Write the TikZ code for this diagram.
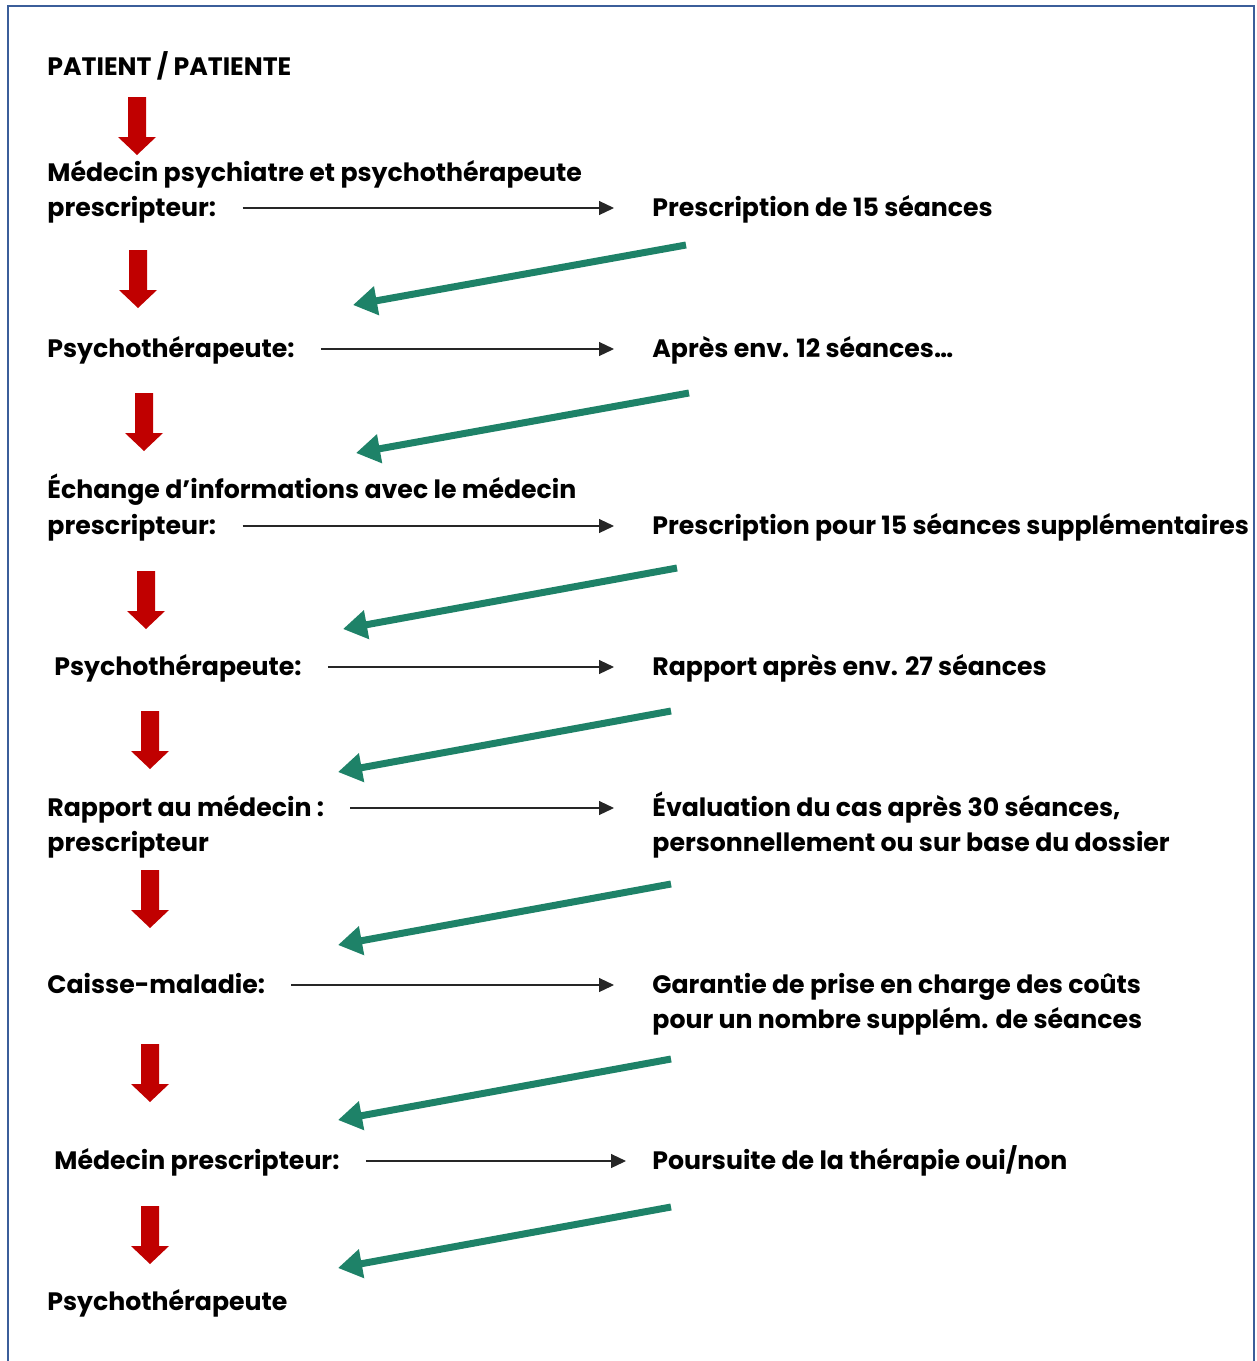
\documentclass[tikz,border=0pt]{standalone}
\usepackage{fontspec}
\setmainfont{Poppins}
\usetikzlibrary{arrows.meta}
\definecolor{frameblue}{RGB}{59,94,154}
\definecolor{flowred}{RGB}{192,0,0}
\definecolor{backgreen}{RGB}{30,130,104}

\begin{document}
\begin{tikzpicture}[x=0.5pt,y=-0.5pt,
    lbl/.style={anchor=base west,inner sep=0pt,text height=10pt,text depth=2pt,
      font=\bfseries\fontsize{12.6}{15}\selectfont},
    flow/.style={-{Triangle[length=7.5pt,width=7pt]},line width=0.6pt,black!85,
      shorten <=13pt,shorten >=19pt},
    back/.style={-{Triangle[length=12pt,width=14pt]},line width=3.5pt,backgreen}]
    \useasboundingbox (0,0) rectangle (1257,1361);
    \draw [frameblue,line width=1.2pt] (8,6) rectangle (1254,1375);
    %left column
    \node [lbl] (p0) at (47,75) {PATIENT / PATIENTE};
    \node [lbl] (l1a) at (47,181) {Médecin psychiatre et psychothérapeute};
    \node [lbl] (l1) at (47,216) {prescripteur:};
    \node [lbl] (l2) at (47,357) {Psychothérapeute:};
    \node [lbl] (l3a) at (47,498) {Échange d’informations avec le médecin};
    \node [lbl] (l3) at (47,534) {prescripteur:};
    \node [lbl] (l4) at (54,675) {Psychothérapeute:};
    \node [lbl] (l5) at (47,816) {Rapport au médecin :};
    \node [lbl] (l5b) at (47,851) {prescripteur};
    \node [lbl] (l6) at (47,993) {Caisse-maladie:};
    \node [lbl] (l7) at (54,1169) {Médecin prescripteur:};
    \node [lbl] (l8) at (47,1310) {Psychothérapeute};
    %right column
    \node [lbl] (r1) at (652,216) {Prescription de 15 séances};
    \node [lbl] (r2) at (652,357) {Après env. 12 séances…};
    \node [lbl] (r3) at (652,534) {Prescription pour 15 séances supplémentaires};
    \node [lbl] (r4) at (652,675) {Rapport après env. 27 séances};
    \node [lbl] (r5) at (652,816) {Évaluation du cas après 30 séances,};
    \node [lbl] (r5b) at (652,851) {personnellement ou sur base du dossier};
    \node [lbl] (r6) at (652,993) {Garantie de prise en charge des coûts};
    \node [lbl] (r6b) at (652,1028) {pour un nombre supplém. de séances};
    \node [lbl] (r7) at (652,1169) {Poursuite de la thérapie oui/non};
    %thin arrows
    \draw [flow] (l1.east) -- (r1.west);
    \draw [flow] (l2.east) -- (r2.west);
    \draw [flow] (l3.east) -- (r3.west);
    \draw [flow] (l4.east) -- (r4.west);
    \draw [flow] (l5.east) -- (r5.west);
    \draw [flow] (l6.east) -- (r6.west);
    \draw [flow,shorten >=13pt] (l7.east) -- (r7.west);
    %red block arrows
    \foreach \cx/\t in {137/97,138/250,144/393,146/571,150/711,150/870,150/1044,150/1206}
      \fill [flowred] (\cx-9,\t) -- (\cx+9,\t) -- (\cx+9,\t+40) -- (\cx+19,\t+40)
        -- (\cx,\t+58) -- (\cx-19,\t+40) -- (\cx-9,\t+40) -- cycle;
    %green arrows back
    \foreach \i/\xa/\ya/\xb/\yb in {1/686/245/353/305,2/689/393/356/453,3/677/568/343/629,
        4/671/711/338/772,5/671/884/338/945,6/671/1059/338/1120,7/671/1207/338/1268} {
      \coordinate (ga\i) at (\xa,\ya);
      \coordinate (gb\i) at (\xb,\yb);
      \draw [back] (ga\i) -- (gb\i);
    }
\end{tikzpicture}
\end{document}
